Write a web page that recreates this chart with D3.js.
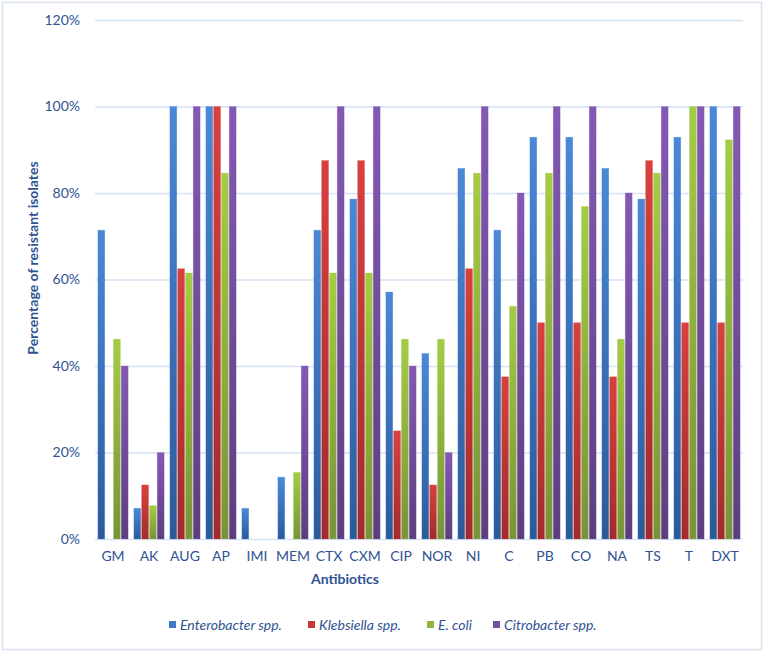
<!DOCTYPE html>
<html><head><meta charset="utf-8">
<script src="https://cdn.jsdelivr.net/npm/d3@7"></script>
<style>body{margin:0;background:#fff}svg{display:block}</style>
</head><body>
<script>
const categories = ["GM","AK","AUG","AP","IMI","MEM","CTX","CXM","CIP","NOR","NI","C","PB","CO","NA","TS","T","DXT"];
const seriesNames = ["Enterobacter spp.","Klebsiella spp.","E. coli","Citrobacter spp."];
const enterobacter = [71.4,7.1,100,100,7.1,14.3,71.4,78.6,57.1,42.9,85.7,71.4,92.9,92.9,85.7,78.6,92.9,100];
const klebsiella   = [0,12.5,62.5,100,0,0,87.5,87.5,25,12.5,62.5,37.5,50,50,37.5,87.5,50,50];
const ecoli        = [46.2,7.7,61.5,84.6,0,15.4,61.5,61.5,46.2,46.2,84.6,53.8,84.6,76.9,46.2,84.6,100,92.3];
const citrobacter  = [40,20,100,100,0,40,100,100,40,20,100,80,100,100,80,100,100,100];
const yTicks = [0,20,40,60,80,100,120];
const seriesValues = [enterobacter, klebsiella, ecoli, citrobacter];

const colors = [
  {top:"#4a88d8", bot:"#2c5a98", mid:"#3b78c6"},
  {top:"#d94040", bot:"#a32b2b", mid:"#c93636"},
  {top:"#a5cc45", bot:"#76933a", mid:"#92b540"},
  {top:"#8459b4", bot:"#5c3e80", mid:"#7451a0"}
];

const W = 765, H = 653;
const svg = d3.select("body").append("svg").attr("width", W).attr("height", H);
svg.append("rect").attr("x",2.5).attr("y",2.5).attr("width",759).attr("height",647)
  .attr("fill","#fff").attr("stroke","#d9e2ef").attr("stroke-width",1.5);

const defs = svg.append("defs");
colors.forEach((c,i)=>{
  const g = defs.append("linearGradient").attr("id","g"+i).attr("x1",0).attr("y1",0).attr("x2",0).attr("y2",1);
  g.append("stop").attr("offset","0%").attr("stop-color",c.top);
  g.append("stop").attr("offset","100%").attr("stop-color",c.bot);
});

const pLeft = 95, pRight = 743, pTop = 20, pBottom = 539;
const x = d3.scaleBand().domain(categories).range([pLeft, pRight]).paddingInner(0.16).paddingOuter(0.08);
const xi = d3.scaleBand().domain(d3.range(4)).range([0, x.bandwidth()]).paddingInner(0.12);
const y = d3.scaleLinear().domain([0,120]).range([pBottom, pTop]);

const textColor = "#2f5391";
const font = "Lato, 'Open Sans', sans-serif";

// gridlines
svg.append("g").selectAll("line").data(yTicks).join("line")
  .attr("x1", pLeft).attr("x2", pRight)
  .attr("y1", d=>y(d)+0.5).attr("y2", d=>y(d)+0.5)
  .attr("stroke", "#d6e2f5").attr("stroke-width", 1.5);

// y axis labels
const yAxis = d3.axisLeft(y).tickValues(yTicks).tickFormat(d=>d+"%").tickSize(0).tickPadding(15);
const ya = svg.append("g").attr("transform", `translate(${pLeft},0)`).call(yAxis);
ya.select(".domain").remove();
ya.selectAll("text").attr("fill", textColor).attr("font-family", font).attr("font-size", 14);

// bars
const groups = svg.append("g").selectAll("g").data(categories).join("g")
  .attr("transform", d=>`translate(${x(d)},0)`);
groups.selectAll("rect").data((d,ci)=>seriesValues.map((s,si)=>({si, v:s[ci]})).filter(o=>o.v>0)).join("rect")
  .attr("x", d=>xi(d.si))
  .attr("width", xi.bandwidth())
  .attr("y", d=>y(d.v))
  .attr("height", d=>pBottom - y(d.v))
  .attr("fill", d=>`url(#g${d.si})`)
  .attr("stroke", d=>colors[d.si].top).attr("stroke-opacity",0.35).attr("stroke-width",0.8);

// x axis labels
const xAxis = d3.axisBottom(x).tickSize(0).tickPadding(12);
const xa = svg.append("g").attr("transform", `translate(0,${pBottom})`).call(xAxis);
xa.select(".domain").remove();
xa.selectAll("text").attr("fill", textColor).attr("font-family", font).attr("font-size", 14);

// axis titles
svg.append("text").attr("x", 345).attr("y", 584).attr("text-anchor","middle")
  .attr("fill", textColor).attr("font-family", font).attr("font-weight","bold").attr("font-size", 14)
  .text("Antibiotics");
svg.append("text").attr("transform","translate(38,258) rotate(-90)").attr("text-anchor","middle")
  .attr("fill", textColor).attr("font-family", font).attr("font-weight","bold").attr("font-size", 14)
  .text("Percentage of resistant isolates");

// legend
const legendX = [169, 308, 427, 493];
const lg = svg.append("g").selectAll("g").data(seriesNames).join("g")
  .attr("transform", (d,i)=>`translate(${legendX[i]},625)`);
lg.append("rect").attr("x",0).attr("y",-4).attr("width",7).attr("height",7)
  .attr("fill",(d,i)=>colors[i].mid);
lg.append("text").attr("x",11).attr("y",5).attr("fill", textColor).attr("font-family", font)
  .attr("font-style","italic").attr("font-size",14).text(d=>d);
</script>
</body></html>
